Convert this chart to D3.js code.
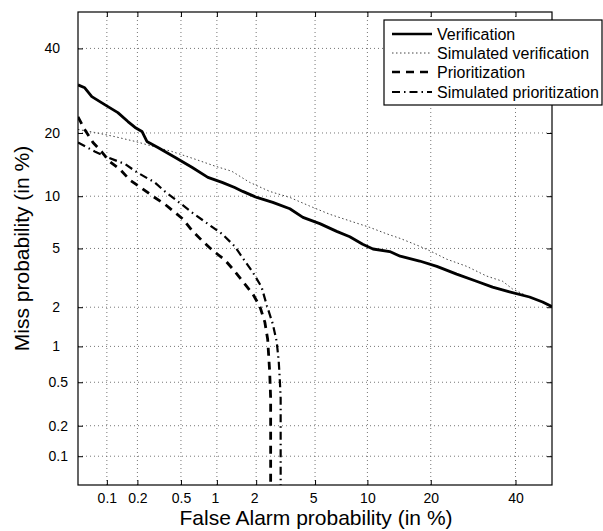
<!DOCTYPE html>
<html>
<head>
<meta charset="utf-8">
<script src="https://cdn.jsdelivr.net/npm/d3@7"></script>
<style>
  body { margin: 0; background: #fff; }
  svg text { font-family: "Liberation Sans", Arial, Helvetica, sans-serif; fill: #000; }
</style>
</head>
<body>
<div id="chart"></div>
<script>
// DET plot, all values in % (false alarm, miss)
const tickLabels = ['0.1', '0.2', '0.5', '1', '2', '5', '10', '20', '40']
const axisMin = 0.05, axisMax = 50

const verification = [
  [0.05, 30.6], [0.059, 29.9], [0.070, 27.8], [0.096, 25.9], [0.129, 24.2], [0.162, 22.3],
  [0.19, 21.1], [0.221, 20.3], [0.246, 18.4], [0.311, 17.3], [0.442, 15.6], [0.621, 14.0],
  [0.845, 12.5], [1.10, 11.8], [1.38, 11.1], [1.59, 10.6], [2.02, 9.85], [2.63, 9.27],
  [3.44, 8.55], [4.19, 7.66], [5.35, 7.05], [6.75, 6.35], [8.02, 5.90], [9.44, 5.31],
  [10.7, 4.96], [13.0, 4.78], [14.6, 4.47], [17.9, 4.16], [21.2, 3.84], [25.4, 3.41],
  [30.0, 3.05], [34.0, 2.78], [38.4, 2.58], [43.8, 2.37], [47.4, 2.18], [50, 2.02]
]

const simVerification = [
  [0.05, 20.7], [0.075, 20.1], [0.12, 19.3], [0.19, 18.4], [0.246, 17.8], [0.415, 16.6],
  [0.66, 15.3], [0.96, 14.2], [1.31, 13.4], [1.79, 11.8], [2.50, 10.6], [3.44, 9.85],
  [4.63, 8.85], [6.16, 7.96], [8.02, 7.31], [10.3, 6.70], [12.6, 6.13], [14.6, 5.76],
  [17.9, 5.16], [19.8, 4.84], [23.2, 4.28], [27.7, 3.84], [32.5, 3.31], [36.6, 3.05],
  [39.2, 2.70], [43.8, 2.37], [47.4, 2.18], [50, 2.02]
]

const prioritization = [
  [0.05, 23.3], [0.058, 20.9], [0.072, 18.2], [0.089, 16.5], [0.107, 14.9], [0.135, 13.7],
  [0.170, 12.1], [0.221, 11.0], [0.28, 9.98], [0.36, 9.06], [0.442, 8.17], [0.52, 7.49],
  [0.621, 6.44], [0.75, 5.62], [0.93, 4.84], [1.16, 4.22], [1.38, 3.57], [1.59, 3.05],
  [1.89, 2.49], [2.13, 2.02], [2.31, 1.55], [2.42, 1.14], [2.46, 0.84], [2.50, 0.62],
  [2.54, 0.36], [2.54, 0.15], [2.54, 0.05]
]

const simPrioritization = [
  [0.05, 18.2], [0.075, 16.6], [0.102, 15.6], [0.152, 14.5], [0.20, 13.2], [0.29, 11.8],
  [0.36, 10.6], [0.47, 9.38], [0.62, 8.17], [0.80, 7.22], [1.10, 6.13], [1.38, 5.16],
  [1.65, 4.16], [1.89, 3.51], [2.19, 2.78], [2.39, 2.05], [2.63, 1.50], [2.80, 1.09],
  [2.89, 0.76], [2.94, 0.53], [2.98, 0.36], [2.98, 0.15], [2.98, 0.05]
]

const seriesNames = ['Verification', 'Simulated verification', 'Prioritization', 'Simulated prioritization']

// inverse normal cdf (Acklam)
function probit(p) {
  const a = [-3.969683028665376e+01, 2.209460984245205e+02, -2.759285104469687e+02, 1.383577518672690e+02, -3.066479806614716e+01, 2.506628277459239e+00]
  const b = [-5.447609879822406e+01, 1.615858368580409e+02, -1.556989798598866e+02, 6.680131188771972e+01, -1.328068155288572e+01]
  const c = [-7.784894002430293e-03, -3.223964580411365e-01, -2.400758277161838e+00, -2.549671013857378e+00, 4.374664141464968e+00, 2.938163982698783e+00]
  const d = [7.784695709041462e-03, 3.224671290700398e-01, 2.445134137142996e+00, 3.754408661907416e+00]
  const pl = 0.02425
  let q, r
  if (p < pl) {
    q = Math.sqrt(-2 * Math.log(p))
    return (((((c[0]*q+c[1])*q+c[2])*q+c[3])*q+c[4])*q+c[5]) / ((((d[0]*q+d[1])*q+d[2])*q+d[3])*q+1)
  }
  if (p <= 1 - pl) {
    q = p - 0.5; r = q * q
    return (((((a[0]*r+a[1])*r+a[2])*r+a[3])*r+a[4])*r+a[5])*q / (((((b[0]*r+b[1])*r+b[2])*r+b[3])*r+b[4])*r+1)
  }
  q = Math.sqrt(-2 * Math.log(1 - p))
  return -(((((c[0]*q+c[1])*q+c[2])*q+c[3])*q+c[4])*q+c[5]) / ((((d[0]*q+d[1])*q+d[2])*q+d[3])*q+1)
}

const margin = {top: 12, right: 51, bottom: 46, left: 78}
const width = 603
const height = 531
const innerWidth = width - margin.left - margin.right
const innerHeight = height - margin.top - margin.bottom

const svg = d3.select('#chart').append('svg')
              .attr('width', width)
              .attr('height', height)

const g = svg.append('g').attr('transform', `translate(${margin.left},${margin.top})`)

const x = d3.scaleLinear().domain([probit(axisMin / 100), probit(axisMax / 100)]).range([0, innerWidth])
const y = d3.scaleLinear().domain([probit(axisMin / 100), probit(axisMax / 100)]).range([innerHeight, 0])
const px = v => x(probit(v / 100))
const py = v => y(probit(v / 100))
const tickVals = tickLabels.map(t => probit(+t / 100))

// dotted grid
const grid = g.append('g')
              .attr('stroke', '#666')
              .attr('stroke-width', 0.9)
              .attr('stroke-dasharray', '1,3')
grid.selectAll('.gx').data(tickVals).enter().append('line')
    .attr('x1', d => x(d)).attr('x2', d => x(d))
    .attr('y1', 0).attr('y2', innerHeight)
grid.selectAll('.gy').data(tickVals).enter().append('line')
    .attr('y1', d => y(d)).attr('y2', d => y(d))
    .attr('x1', 0).attr('x2', innerWidth)

// axes, ticks pointing inward
const fmt = (d, i) => tickLabels[i]
const xAxis = g.append('g').attr('transform', `translate(0,${innerHeight})`)
               .call(d3.axisBottom(x).tickValues(tickVals).tickFormat(fmt).tickSizeInner(-5).tickSizeOuter(0).tickPadding(8))
const yAxis = g.append('g')
               .call(d3.axisLeft(y).tickValues(tickVals).tickFormat(fmt).tickSizeInner(-5).tickSizeOuter(0).tickPadding(10))
const topAxis = g.append('g').call(d3.axisTop(x).tickValues(tickVals).tickSizeInner(-5).tickSizeOuter(0))
const rightAxis = g.append('g').attr('transform', `translate(${innerWidth},0)`)
                   .call(d3.axisRight(y).tickValues(tickVals).tickSizeInner(-5).tickSizeOuter(0))
topAxis.selectAll('text').remove()
rightAxis.selectAll('text').remove()

g.selectAll('.domain').remove()
g.selectAll('.tick line').attr('stroke', '#000')
g.selectAll('.tick text').attr('font-size', 14).attr('font-family', '"Liberation Sans", Arial, sans-serif')
// matlab pads short labels with spaces
yAxis.selectAll('.tick text').attr('dx', d => (fmt(d, tickVals.indexOf(d)).length < 3 ? -8 : 0))
xAxis.selectAll('.tick text').attr('dx', d => (fmt(d, tickVals.indexOf(d)).length < 2 ? -2 : 0))

// curves
g.append('clipPath').attr('id', 'clip')
 .append('rect').attr('width', innerWidth).attr('height', innerHeight)

const line = d3.line().x(d => px(d[0])).y(d => py(d[1]))

const styles = [
  {data: verification,      stroke: '#000', width: 2.8, dash: null},
  {data: simVerification,   stroke: '#444', width: 1,   dash: '1.5,2.5'},
  {data: prioritization,    stroke: '#000', width: 2.8, dash: '8,6'},
  {data: simPrioritization, stroke: '#000', width: 2.2, dash: '8,4,1.5,4'}
]

const curves = g.append('g').attr('clip-path', 'url(#clip)')
// draw simulated ones first so solid sits on top
;[1, 3, 2, 0].forEach(i => {
  const s = styles[i]
  curves.append('path')
        .attr('d', line(s.data))
        .attr('fill', 'none')
        .attr('stroke', s.stroke)
        .attr('stroke-width', s.width)
        .attr('stroke-dasharray', s.dash)
        .attr('stroke-linejoin', 'round')
})

// frame
g.append('rect').attr('width', innerWidth).attr('height', innerHeight)
 .attr('fill', 'none').attr('stroke', '#000').attr('stroke-width', 1.2)

// axis titles
svg.append('text')
   .attr('x', margin.left + innerWidth / 2 + 1)
   .attr('y', 525)
   .attr('text-anchor', 'middle')
   .attr('font-size', 21)
   .text('False Alarm probability (in %)')

svg.append('text')
   .attr('transform', `translate(29,${margin.top + innerHeight / 2}) rotate(-90)`)
   .attr('text-anchor', 'middle')
   .attr('font-size', 21)
   .text('Miss probability (in %)')

// legend
const legend = svg.append('g').attr('transform', 'translate(384,20)')
legend.append('rect').attr('width', 218).attr('height', 85)
      .attr('fill', '#fff').attr('stroke', '#000').attr('stroke-width', 1.2)
const rowY = [14, 33, 52, 72]
seriesNames.forEach((name, i) => {
  const s = styles[i]
  legend.append('line')
        .attr('x1', 8).attr('x2', 48).attr('y1', rowY[i]).attr('y2', rowY[i])
        .attr('stroke', s.stroke).attr('stroke-width', Math.min(s.width, 2.4))
        .attr('stroke-dasharray', s.dash)
  legend.append('text')
        .attr('x', 53).attr('y', rowY[i]).attr('dy', '0.35em')
        .attr('font-size', 16)
        .text(name)
})
</script>
</body>
</html>
